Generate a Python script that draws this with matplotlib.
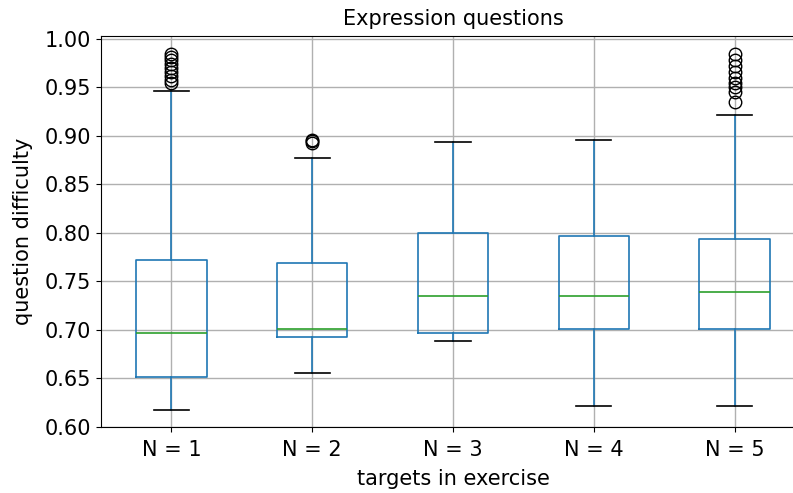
import matplotlib
matplotlib.use("Agg")
import matplotlib.pyplot as plt

# Box statistics
labels = ["N = 1", "N = 2", "N = 3", "N = 4", "N = 5"]
whislo = [0.618, 0.656, 0.689, 0.622, 0.622]
q1 = [0.652, 0.693, 0.697, 0.701, 0.701]
med = [0.697, 0.701, 0.735, 0.735, 0.739]
q3 = [0.772, 0.769, 0.800, 0.797, 0.794]
whishi = [0.946, 0.877, 0.894, 0.896, 0.922]
fliers = [
    [0.955, 0.958, 0.962, 0.966, 0.970, 0.974, 0.978, 0.981, 0.984],
    [0.893, 0.895, 0.896],
    [],
    [],
    [0.935, 0.945, 0.950, 0.955, 0.960, 0.966, 0.972, 0.978, 0.984],
]

stats = []
for i, lab in enumerate(labels):
    stats.append(dict(label=lab, whislo=whislo[i], q1=q1[i], med=med[i],
                      q3=q3[i], whishi=whishi[i], fliers=fliers[i]))

fig = plt.figure(figsize=(7.93, 4.93), dpi=100)
ax = fig.add_axes([101 / 793, 66 / 493, 704 / 793, 391 / 493])

ax.bxp(stats, widths=0.5,
       boxprops=dict(color="C0", linewidth=1.2),
       whiskerprops=dict(color="C0", linewidth=1.2),
       capprops=dict(color="black", linewidth=1.2),
       medianprops=dict(color="C2", linewidth=1.2),
       flierprops=dict(marker="o", markerfacecolor="none",
                       markeredgecolor="black", markersize=9))

ax.grid(True, color="#b0b0b0", linewidth=1)
ax.set_axisbelow(True)
ax.spines["right"].set_visible(False)  # cropped off in the original
ax.set_ylim(0.6, 1.003)
ax.set_xlim(0.5, 5.5)
ax.set_yticks([0.60, 0.65, 0.70, 0.75, 0.80, 0.85, 0.90, 0.95, 1.00])
ax.tick_params(labelsize=15)
ax.tick_params(axis="x", pad=6)
ax.set_xlabel("targets in exercise", fontsize=15, labelpad=6)
ax.set_ylabel("question difficulty", fontsize=15, labelpad=8.5)
ax.set_title("Expression questions", fontsize=15, pad=8)

fig.savefig("out.png", dpi=100)
